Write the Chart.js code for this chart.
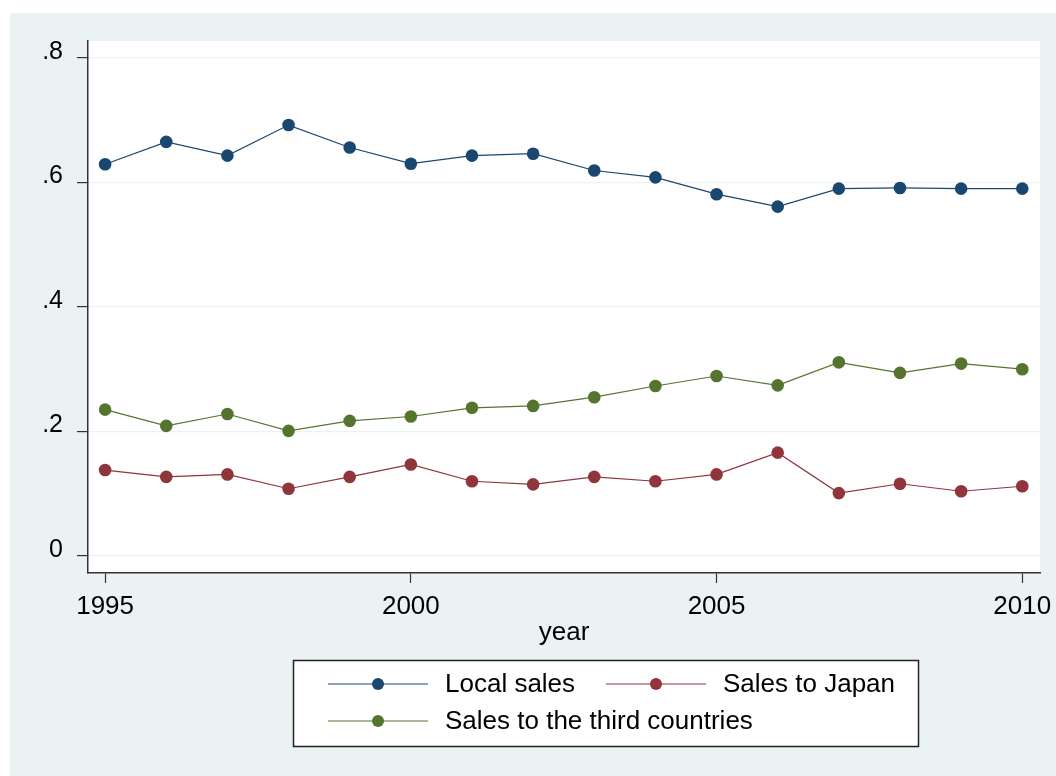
<!DOCTYPE html>
<html>
<head>
<meta charset="utf-8">
<script src="https://cdn.jsdelivr.net/npm/chart.js@4/dist/chart.umd.min.js"></script>
<style>
  body { margin: 0; background: #fff; }
  canvas { display: block; }
</style>
</head>
<body>
<canvas id="lineChart" width="1056" height="776"></canvas>
<script>
var years = [1995, 1996, 1997, 1998, 1999, 2000, 2001, 2002, 2003, 2004, 2005, 2006, 2007, 2008, 2009, 2010];
var localSales = [0.629, 0.665, 0.643, 0.692, 0.656, 0.630, 0.643, 0.646, 0.619, 0.608, 0.581, 0.561, 0.590, 0.591, 0.590, 0.590];
var salesJapan = [0.138, 0.127, 0.131, 0.108, 0.127, 0.147, 0.120, 0.115, 0.127, 0.120, 0.131, 0.166, 0.101, 0.116, 0.104, 0.112];
var salesThird = [0.235, 0.209, 0.228, 0.201, 0.217, 0.224, 0.238, 0.241, 0.255, 0.273, 0.289, 0.274, 0.311, 0.294, 0.309, 0.300];
var seriesNames = ['Local sales', 'Sales to Japan', 'Sales to the third countries'];
var xTicks = [1995, 2000, 2005, 2010];
var yTicks = [0, 0.2, 0.4, 0.6, 0.8];
var yTickLabels = ['0', '.2', '.4', '.6', '.8'];

Chart.defaults.font.family = "'Liberation Sans', Arial, sans-serif";
Chart.defaults.color = '#000';

function points(vals) {
    return years.map(function (y, i) { return { x: y, y: vals[i] }; });
}

function makeSet(label, vals, color) {
    return {
        label: label,
        data: points(vals),
        borderColor: color,
        backgroundColor: color,
        borderWidth: 1.2,
        pointRadius: 6.3,
        pointBorderWidth: 0,
        pointBackgroundColor: color,
        tension: 0
    };
}

// stata style background: light bluish outer region, white plot region
var bgPlugin = {
    id: 'bg',
    beforeDraw: function (chart) {
        var c = chart.ctx, a = chart.chartArea;
        c.save();
        c.fillStyle = '#fff';
        c.fillRect(0, 0, chart.width, chart.height);
        c.fillStyle = '#EAF2F3';
        c.fillRect(10, 13, chart.width - 10, chart.height - 13);
        c.fillStyle = '#fff';
        c.fillRect(a.left, a.top, a.right - a.left, a.bottom - a.top);
        c.restore();
    }
};

// legend box below the x axis title, two columns
var legendPlugin = {
    id: 'stataLegend',
    afterDraw: function (chart) {
        var c = chart.ctx;
        var sets = chart.data.datasets;
        var pos = [[328, 684], [606, 684], [328, 721]];
        c.save();
        c.fillStyle = '#fff';
        c.fillRect(293.5, 660.5, 625, 86);
        c.strokeStyle = '#222';
        c.lineWidth = 1.5;
        c.strokeRect(293.5, 660.5, 625, 86);
        c.font = "26px 'Liberation Sans', Arial, sans-serif";
        c.textBaseline = 'middle';
        c.textAlign = 'left';
        sets.forEach(function (ds, i) {
            var x = pos[i][0], y = pos[i][1];
            c.strokeStyle = ds.borderColor;
            c.lineWidth = 1.2;
            c.beginPath();
            c.moveTo(x, y);
            c.lineTo(x + 100, y);
            c.stroke();
            c.fillStyle = ds.borderColor;
            c.beginPath();
            c.arc(x + 50, y, 6, 0, Math.PI * 2);
            c.fill();
            c.fillStyle = '#000';
            c.fillText(ds.label, x + 117, y + 1);
        });
        c.restore();
    }
};

var ctx = document.getElementById('lineChart').getContext('2d');
var myChart = new Chart(ctx, {
    type: 'line',
    data: {
        datasets: [
            makeSet(seriesNames[0], localSales, '#1A476F'),
            makeSet(seriesNames[1], salesJapan, '#90353B'),
            makeSet(seriesNames[2], salesThird, '#55752F')
        ]
    },
    options: {
        responsive: false,
        animation: false,
        layout: { padding: { left: 10, top: 41, right: 16, bottom: 127.4 } },
        plugins: { legend: { display: false }, tooltip: { enabled: false } },
        scales: {
            x: {
                type: 'linear',
                min: 1994.72,
                max: 2010.29,
                afterBuildTicks: function (s) { s.ticks = xTicks.map(function (v) { return { value: v }; }); },
                afterFit: function (s) { s.height = 75.6; s.paddingLeft = 0; s.paddingRight = 0; },
                ticks: {
                    font: { size: 26 },
                    padding: 8,
                    maxRotation: 0,
                    callback: function (v) { return String(v); }
                },
                grid: { drawOnChartArea: false, tickLength: 10, tickColor: '#333', tickWidth: 1.2 },
                border: { color: '#333', width: 1.5 },
                title: { display: true, text: 'year', font: { size: 26 }, padding: 0, color: '#000' }
            },
            y: {
                min: -0.0273,
                max: 0.827,
                afterBuildTicks: function (s) { s.ticks = yTicks.map(function (v) { return { value: v }; }); },
                afterFit: function (s) { s.width = 78; s.paddingTop = 0; s.paddingBottom = 0; },
                ticks: {
                    font: { size: 25 },
                    padding: 14,
                    labelOffset: -6,
                    callback: function (v) {
                        var i = yTicks.indexOf(v);
                        return i >= 0 ? yTickLabels[i] : '';
                    }
                },
                grid: { color: '#EAF2F3', lineWidth: 1.2, tickLength: 11, tickColor: '#333', tickWidth: 1.2 },
                border: { color: '#333', width: 1.5 }
            }
        }
    },
    plugins: [bgPlugin, legendPlugin]
});
</script>
</body>
</html>
